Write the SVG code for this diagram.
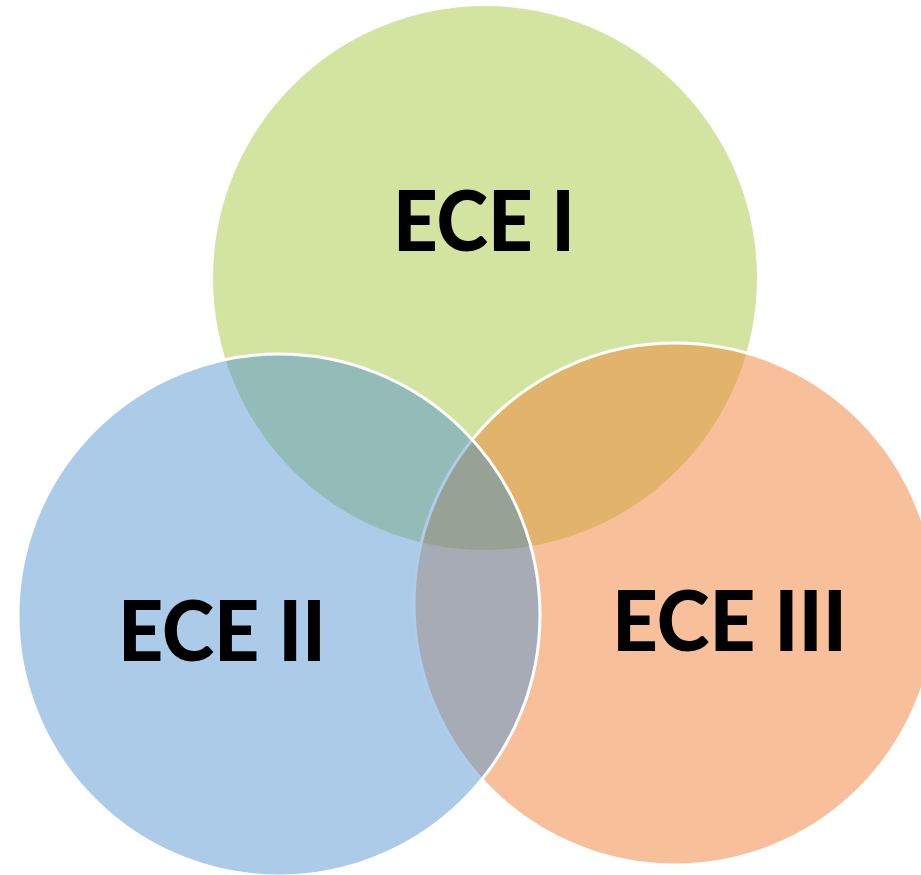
<svg xmlns="http://www.w3.org/2000/svg" width="921" height="875" viewBox="0 0 921 875">
  <defs>
    <clipPath id="clipGreen"><circle cx="485" cy="278" r="272"/></clipPath>
    <clipPath id="clipBlue"><circle cx="279" cy="615" r="261"/></clipPath>
    <clipPath id="clipOrange"><circle cx="675" cy="604" r="261"/></clipPath>
    <style>
      .lbl { font-family: "Lato", "Open Sans", "Liberation Sans", sans-serif; font-weight: 900; font-size: 84px; fill: #000000; }
      .edge { fill: none; stroke: #ffffff; stroke-width: 3; }
    </style>
  </defs>
  <rect x="0" y="0" width="921" height="875" fill="#ffffff"/>

  <g id="node-ece1">
    <circle cx="485" cy="278" r="272" fill="#d3e4a1"/>
  </g>

  <g id="node-ece3">
    <circle cx="675" cy="604" r="261" fill="#f8c09a"/>
    <circle cx="675" cy="604" r="261" fill="#e2b36b" clip-path="url(#clipGreen)"/>
    <circle cx="675" cy="604" r="261" class="edge"/>
  </g>

  <g id="node-ece2">
    <circle cx="279" cy="615" r="261" fill="#abcbe9"/>
    <circle cx="279" cy="615" r="261" fill="#93bbb8" clip-path="url(#clipGreen)"/>
    <circle cx="279" cy="615" r="261" fill="#a6abb5" clip-path="url(#clipOrange)"/>
    <g clip-path="url(#clipOrange)">
      <circle cx="279" cy="615" r="261" fill="#97a295" clip-path="url(#clipGreen)"/>
    </g>
    <circle cx="675" cy="604" r="261" fill="none" stroke="#aecdea" stroke-width="3" clip-path="url(#clipBlue)"/>
    <circle cx="279" cy="615" r="261" class="edge"/>
  </g>

  <g id="labels">
    <text class="lbl" x="393" y="250.5" textLength="182" lengthAdjust="spacingAndGlyphs">ECE I</text>
    <text class="lbl" x="118" y="661" textLength="208" lengthAdjust="spacingAndGlyphs">ECE II</text>
    <text class="lbl" x="612" y="650.5" textLength="235" lengthAdjust="spacingAndGlyphs">ECE III</text>
  </g>
</svg>
